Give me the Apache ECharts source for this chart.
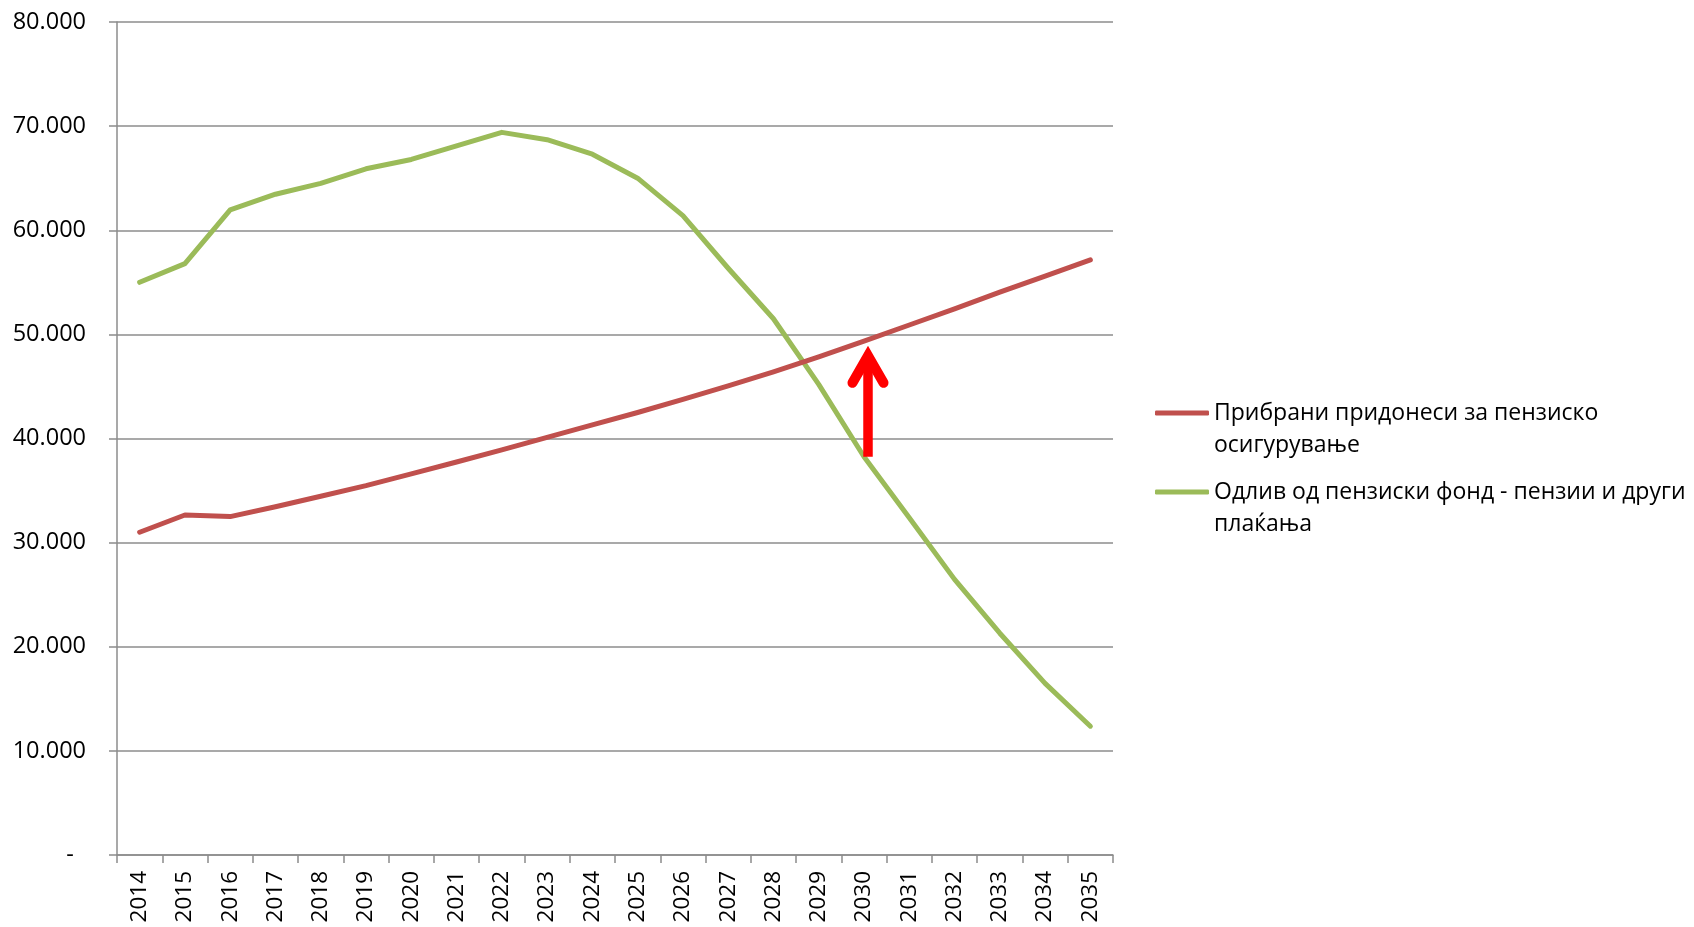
<!DOCTYPE html>
<html>
<head>
<meta charset="utf-8">
<title>Пензиски фонд</title>
<script src="https://cdn.jsdelivr.net/npm/echarts@6/dist/echarts.min.js"></script>
<style>
  html, body { margin: 0; padding: 0; background: #fff; }
  #chart { width: 1694px; height: 927px; }
</style>
</head>
<body>
<div id="chart"></div>
<script>
// Years on the category axis
const years = ['2014', '2015', '2016', '2017', '2018', '2019', '2020', '2021', '2022', '2023', '2024',
               '2025', '2026', '2027', '2028', '2029', '2030', '2031', '2032', '2033', '2034', '2035'];

// Collected pension contributions
const contributions = [31000, 32650, 32500, 33450, 34450, 35470, 36600, 37740, 38900, 40100, 41300,
                       42500, 43750, 45050, 46400, 47850, 49350, 50900, 52450, 54050, 55600, 57150];

// Outflow from the pension fund (pensions and other payments)
const outflow = [55000, 56800, 61950, 63460, 64500, 65900, 66800, 68100, 69400, 68700, 67300,
                 65000, 61400, 56350, 51500, 45200, 38250, 32400, 26470, 21300, 16480, 12370];

const seriesNames = ['Прибрани придонеси за пензиско\nосигурување',
                     'Одлив од пензиски фонд - пензии и други\nплаќања'];

// Annotation arrow: [year, value at the tail, value at the tip]
const arrowData = [['2030', 38250, 48900]];

const yTicks = { min: 0, max: 80000, interval: 10000 };

const FONT = "'Open Sans', 'Noto Sans', sans-serif";
const GRID_COLOR = '#8c8c8c';

function fmtThousands(v) {
  if (v === 0) return '-  ';
  return String(v).replace(/\B(?=(\d{3})+(?!\d))/g, '.');
}

const chart = echarts.init(document.getElementById('chart'), null, { renderer: 'canvas' });

chart.setOption({
  animation: false,
  backgroundColor: '#ffffff',
  grid: { left: 117, right: 581, top: 22, bottom: 72, containLabel: false },
  legend: {
    orient: 'vertical',
    left: 1150,
    top: 360,
    itemGap: -17,
    itemWidth: 54,
    itemHeight: 5,
    icon: 'roundRect',
    selectedMode: false,
    data: seriesNames,
    // a leading blank line keeps the icon level with the first text line
    formatter: function (name) { return '\n' + name; },
    textStyle: {
      fontFamily: FONT,
      fontSize: 23,
      color: '#000',
      lineHeight: 32
    }
  },
  xAxis: {
    type: 'category',
    data: years,
    boundaryGap: true,
    axisLine: { lineStyle: { color: GRID_COLOR, width: 1.5 } },
    axisTick: { show: true, length: 8, lineStyle: { color: GRID_COLOR, width: 1.5 } },
    axisLabel: {
      rotate: 90,
      margin: 16,
      interval: 0,
      fontFamily: FONT,
      fontSize: 22.5,
      color: '#000'
    },
    splitLine: { show: false }
  },
  yAxis: {
    type: 'value',
    min: yTicks.min,
    max: yTicks.max,
    interval: yTicks.interval,
    axisLine: { show: true, lineStyle: { color: GRID_COLOR, width: 1.5 } },
    axisTick: { show: true, length: 8, lineStyle: { color: GRID_COLOR, width: 1.5 } },
    axisLabel: {
      margin: 31,
      fontFamily: FONT,
      fontSize: 23.5,
      color: '#000',
      formatter: fmtThousands
    },
    splitLine: { show: true, lineStyle: { color: GRID_COLOR, width: 1.5 } }
  },
  series: [
    {
      name: seriesNames[0],
      type: 'line',
      data: contributions,
      symbol: 'none',
      color: '#C0504D',
      lineStyle: { width: 5, color: '#C0504D', cap: 'round', join: 'round' },
      z: 3
    },
    {
      name: seriesNames[1],
      type: 'line',
      data: outflow,
      symbol: 'none',
      color: '#9BBB59',
      lineStyle: { width: 5, color: '#9BBB59', cap: 'round', join: 'round' },
      z: 2
    },
    {
      // Upward arrow from the outflow curve to the contributions curve
      type: 'custom',
      data: arrowData,
      z: 4,
      silent: true,
      renderItem: function (params, api) {
        const tail = api.coord([api.value(0), api.value(1)]);
        const tip = api.coord([api.value(0), api.value(2)]);
        const x = tail[0] + 4;
        const apexY = tip[1] + 10;
        return {
          type: 'group',
          children: [
            {
              type: 'line',
              shape: { x1: x, y1: tail[1], x2: x, y2: apexY },
              style: { stroke: '#FF0000', lineWidth: 9.5, lineCap: 'butt' }
            },
            {
              type: 'polyline',
              shape: { points: [[x - 15.5, tip[1] + 37], [x, apexY], [x + 15.5, tip[1] + 37]] },
              style: { stroke: '#FF0000', fill: null, lineWidth: 10, lineCap: 'round', lineJoin: 'miter' }
            }
          ]
        };
      }
    }
  ]
});
</script>
</body>
</html>
